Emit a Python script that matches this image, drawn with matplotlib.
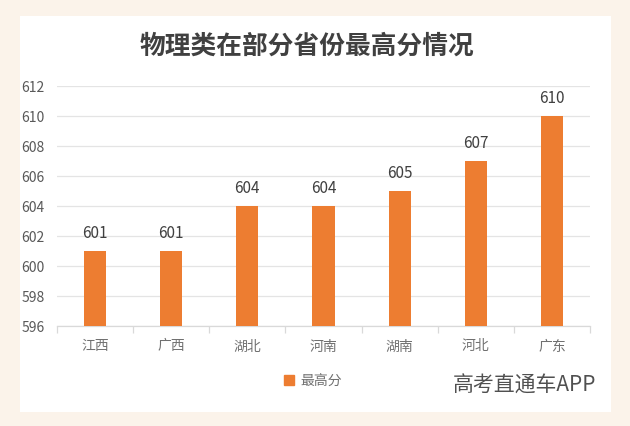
import matplotlib
matplotlib.use("Agg")
import matplotlib.pyplot as plt
from matplotlib.patches import Rectangle, Patch

plt.rcParams['font.family'] = ['Noto Sans CJK SC', 'DejaVu Sans']

provinces = ['江西', '广西', '湖北', '河南', '湖南', '河北', '广东']
scores = [601, 601, 604, 604, 605, 607, 610]
series_name = '最高分'
title = '物理类在部分省份最高分情况'
yticks = [596, 598, 600, 602, 604, 606, 608, 610, 612]
watermark = '高考直通车APP'

W, H = 630, 427
fig = plt.figure(figsize=(W / 100, H / 100), dpi=100)
fig.patch.set_facecolor('#FBF3EA')

bg = fig.add_axes([0, 0, 1, 1], zorder=-5)
bg.set_xlim(0, W)
bg.set_ylim(H, 0)
bg.axis('off')
bg.add_patch(Rectangle((20, 17), 611 - 20, 413 - 17, facecolor='white', edgecolor='none'))

ax = fig.add_axes([57 / W, 1 - 327 / H, (590 - 57) / W, (327 - 87) / H], zorder=1)
ax.set_facecolor('none')
x = range(len(provinces))
bars = ax.bar(x, scores, width=0.29, color='#ED7D31', zorder=3, label=series_name)
ax.set_ylim(596, 612)
ax.set_xlim(-0.5, len(provinces) - 0.5)
ax.set_yticks(yticks)
ax.yaxis.grid(True, color='#E4E4E4', linewidth=0.9, zorder=0)
ax.set_xticks(list(x))
ax.set_xticklabels(provinces, fontsize=10, color='#707070')
ax.tick_params(axis='x', length=0, pad=9)
ax.tick_params(axis='y', length=0, labelsize=10, labelcolor='#595959', pad=9)
ax.set_xticks([i - 0.5 for i in range(len(provinces) + 1)], minor=True)
ax.tick_params(axis='x', which='minor', length=5, color='#D9D9D9', width=0.9)
for s in ['top', 'right', 'left']:
    ax.spines[s].set_visible(False)
ax.spines['bottom'].set_color('#D9D9D9')
ax.spines['bottom'].set_linewidth(0.9)

for b, v in zip(bars, scores):
    ax.annotate(str(v), (b.get_x() + b.get_width() / 2, v), xytext=(0, 7),
                textcoords='offset points', ha='center', va='bottom',
                fontsize=11, color='#404040')

fig.text(307 / W, 1 - 46 / H, title, ha='center', va='center', fontsize=18.5,
         fontweight='bold', color='#404040')

fig.legend(handles=[Patch(color='#ED7D31', label=series_name)],
           loc='center', bbox_to_anchor=(313 / W, 1 - 382 / H), frameon=False,
           fontsize=10, handlelength=0.7, handleheight=0.7, handletextpad=0.5,
           labelcolor='#707070')

fig.text(596 / W, 1 - 386 / H, watermark, ha='right', va='center', fontsize=15,
         color='#505050')

fig.savefig('out.png', dpi=100, facecolor=fig.get_facecolor())
